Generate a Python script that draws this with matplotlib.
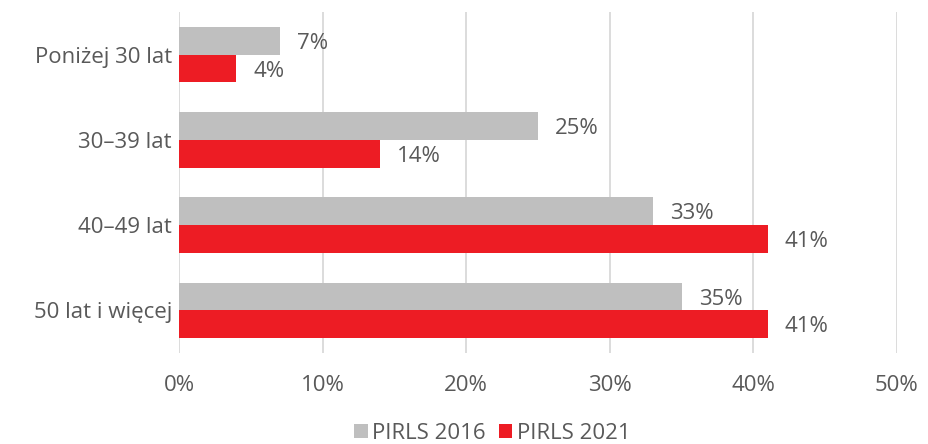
import matplotlib
matplotlib.use("Agg")
import matplotlib.pyplot as plt
import numpy as np

categories = ["Poniżej 30 lat", "30–39 lat", "40–49 lat", "50 lat i więcej"]
pirls_2016 = [7, 25, 33, 35]
pirls_2021 = [4, 14, 41, 41]
series_names = ["PIRLS 2016", "PIRLS 2021"]
xticks = [0, 10, 20, 30, 40, 50]

plt.rcParams['font.family'] = ['Open Sans', 'DejaVu Sans']
text_color = "#595959"
gray = "#BFBFBF"
red = "#ED1C24"
fs = 16

fig = plt.figure(figsize=(9.29, 4.44), dpi=100)
ax = fig.add_axes([179/929, 1-353/444, (897-179)/929, (353-12)/444])

y = np.arange(len(categories))
h = 0.325
ax.barh(y - h/2, pirls_2016, height=h, color=gray, label=series_names[0], zorder=3)
ax.barh(y + h/2, pirls_2021, height=h, color=red, label=series_names[1], zorder=3)

for yi, v in zip(y, pirls_2016):
    ax.text(v + 1.2, yi - h/2 + 0.03, f"{v}%", va="center", ha="left", fontsize=fs, color=text_color)
for yi, v in zip(y, pirls_2021):
    ax.text(v + 1.2, yi + h/2 + 0.03, f"{v}%", va="center", ha="left", fontsize=fs, color=text_color)

ax.set_xlim(0, 50)
ax.set_ylim(3.5, -0.5)
ax.set_yticks(y)
ax.set_yticklabels(categories, fontsize=fs, color=text_color)
ax.set_xticks(xticks)
ax.set_xticklabels([f"{t}%" for t in xticks], fontsize=fs, color=text_color)
ax.tick_params(axis="both", length=0)
ax.tick_params(axis="x", pad=16)
ax.tick_params(axis="y", pad=5)
ax.grid(axis="x", color="#D9D9D9", linewidth=1.3, zorder=0)
for s in ax.spines.values():
    s.set_visible(False)

fig.legend(loc="lower center", bbox_to_anchor=(0.53, -0.045), ncol=2, frameon=False,
           fontsize=fs, labelcolor=text_color, handlelength=0.6, handleheight=0.6,
           handletextpad=0.2, columnspacing=0.6)

fig.savefig("out.png", dpi=100)
